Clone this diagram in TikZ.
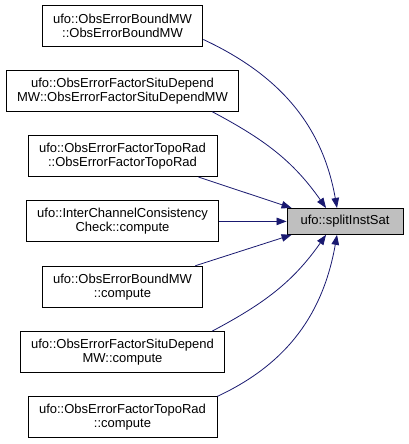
\documentclass[tikz,border=0pt]{standalone}
\usepackage{fontspec}
\setmainfont{Liberation Sans}
\usetikzlibrary{arrows.meta,positioning}
\definecolor{edgeblue}{RGB}{25,25,112}
\definecolor{focusgray}{RGB}{191,191,191}
\tikzset{
  caller/.style={draw=black, line width=0.9pt, align=center, inner xsep=11pt, minimum height=41pt,
    font=\fontsize{13}{14}\selectfont},
  focus/.style={draw=black, line width=0.9pt, fill=focusgray, minimum width=116pt, minimum height=26pt,
    font=\fontsize{13}{14}\selectfont},
  calls/.style={line width=0.8pt, color=edgeblue, -{Triangle[length=10pt,width=7.5pt]}}
}

\begin{document}
\begin{tikzpicture}[x=1pt, y=1pt]
\useasboundingbox (0,0) rectangle (408,444);
% Callers
\node[caller] (c1) at (122.5,418.5) {ufo::ObsErrorBoundMW\\::ObsErrorBoundMW};
\node[caller] (c2) at (122.5,353.2) {ufo::ObsErrorFactorSituDepend\\MW::ObsErrorFactorSituDependMW};
\node[caller] (c3) at (122.5,287.9) {ufo::ObsErrorFactorTopoRad\\::ObsErrorFactorTopoRad};
\node[caller] (c4) at (122.5,222.6) {ufo::InterChannelConsistency\\Check::compute};
\node[caller] (c5) at (122.5,157.3) {ufo::ObsErrorBoundMW\\::compute};
\node[caller] (c6) at (122.5,92) {ufo::ObsErrorFactorSituDepend\\MW::compute};
\node[caller] (c7) at (122.5,26.7) {ufo::ObsErrorFactorTopoRad\\::compute};

% Called function
\node[focus] (split) at (345,222.6) {ufo::splitInstSat};

% Arrows
\draw[calls] ([yshift=-14pt]c1.east) to[out=-25, in=100] ([xshift=-8pt]split.north);
\draw[calls] ([xshift=-27pt]c2.south east) to[out=-28, in=125] ([xshift=-19pt]split.north);
\draw[calls] ([xshift=-19pt]c3.south east) -- ([xshift=5pt]split.north west);
\draw[calls] (c4.east) -- (split.west);
\draw[calls] ([xshift=-8pt]c5.north east) -- ([xshift=5pt]split.south west);
\draw[calls] ([xshift=-13pt]c6.north east) to[out=28, in=-125] ([xshift=-19pt]split.south);
\draw[calls] (c7.north east) to[out=25, in=-100] ([xshift=-8pt]split.south);
\end{tikzpicture}
\end{document}
